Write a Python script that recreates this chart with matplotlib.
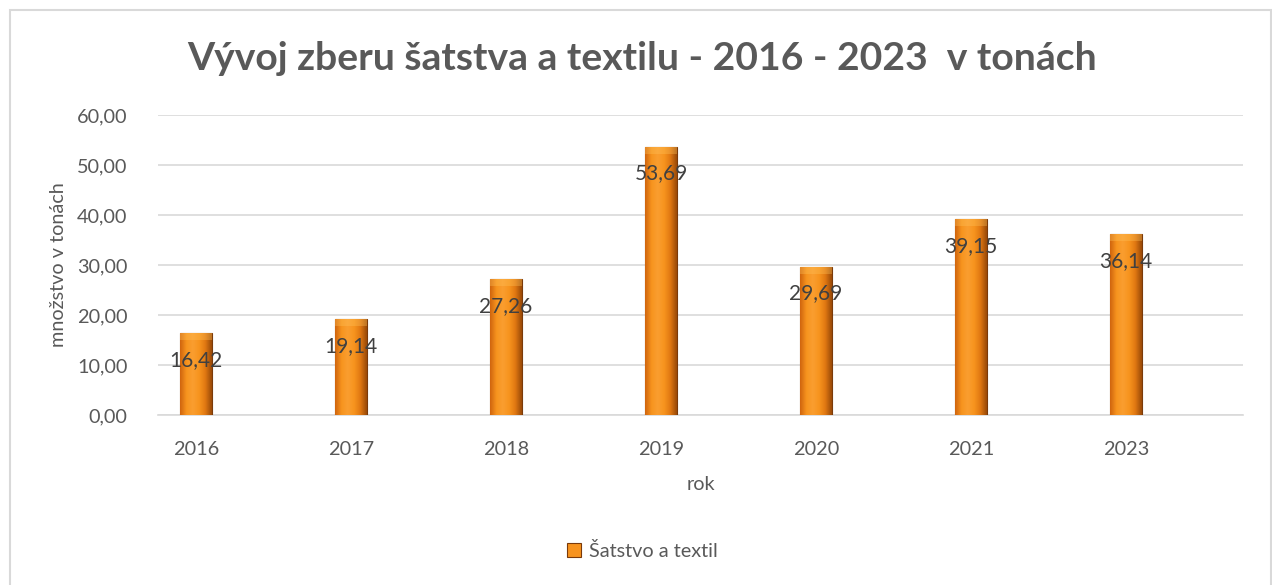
"""Vyvoj zberu satstva a textilu - stlpcovy graf."""
import numpy as np
import matplotlib
matplotlib.use("Agg")
import matplotlib.pyplot as plt
from matplotlib.patches import Rectangle
from matplotlib.colors import LinearSegmentedColormap

# Data
years = ["2016", "2017", "2018", "2019", "2020", "2021", "2023"]
tons = [16.42, 19.14, 27.26, 53.69, 29.69, 39.15, 36.14]
series_name = "Šatstvo a textil"

plt.rcParams["font.family"] = ["Lato", "DejaVu Sans"]
text_color = "#595959"
grid_color = "#D9D9D9"

fig = plt.figure(figsize=(12.72, 5.85), dpi=100)
ax = fig.add_axes([158 / 1272, 1 - 415 / 585, (1243 - 158) / 1272, 300 / 585])

x = np.arange(len(years))
bar_w = 0.206
bars = ax.bar(x, tons, width=bar_w, color="#F7931E", edgecolor="#7A3A0A",
              linewidth=0.8, zorder=3, label=series_name)

# horizontal gradient to mimic the bevelled Excel bars
cmap = LinearSegmentedColormap.from_list(
    "bev", ["#D0650E", "#F7941E", "#FA9E30", "#F7941E", "#E07812", "#9A4A08"])
grad = np.linspace(0, 1, 64).reshape(1, -1)
for b in bars:
    x0, w, h = b.get_x(), b.get_width(), b.get_height()
    im = ax.imshow(grad, cmap=cmap, aspect="auto", extent=(x0, x0 + w, 0, h),
                   zorder=3.5, interpolation="bicubic")
    im.set_clip_path(b)
    # soft light top bevel
    ax.add_patch(Rectangle((x0, h - 1.4), w, 1.4, color="#FFC35A", alpha=0.35,
                           zorder=3.6, linewidth=0))

for xi, v in zip(x, tons):
    ax.annotate(f"{v:.2f}".replace(".", ","), (xi, v), xytext=(0, -27),
                textcoords="offset pixels",
                ha="center", va="center", fontsize=15, color="#404040", zorder=5)

ax.set_xlim(-0.245, 6.755)
ax.set_ylim(0, 60)
ax.set_yticks(np.arange(0, 61, 10))
ax.set_yticklabels([f"{t:.2f}".replace(".", ",") for t in np.arange(0, 61, 10)])
ax.set_xticks(x)
ax.set_xticklabels(years)
ax.tick_params(axis="both", length=0, labelsize=14.3, colors=text_color)
ax.tick_params(axis="y", pad=22)
ax.tick_params(axis="x", pad=19)
ax.grid(axis="y", color=grid_color, linewidth=1.2, zorder=0)
for s in ["top", "right", "left"]:
    ax.spines[s].set_visible(False)
ax.spines["bottom"].set_color(grid_color)
ax.spines["bottom"].set_linewidth(1.2)

ax.set_xlabel("rok", fontsize=14.3, color=text_color, labelpad=13)
ax.set_ylabel("množstvo v tonách", fontsize=14.3, color=text_color, labelpad=7)

fig.text(642 / 1272, 1 - 58 / 585, "Vývoj zberu šatstva a textilu - 2016 - 2023  v tonách",
         ha="center", va="center", fontsize=28.2, fontweight="bold", color=text_color)

handles = [Rectangle((0, 0), 1, 1, facecolor="#F7931E", edgecolor="#7A3A0A", linewidth=0.8)]
fig.legend(handles, [series_name], loc="center", bbox_to_anchor=(642 / 1272, 1 - 551 / 585),
           frameon=False, fontsize=14.3, labelcolor=text_color, handlelength=0.7,
           handleheight=0.7, handletextpad=0.4)

# chart border
fig.patches.append(Rectangle((10 / 1272, -0.01), 1261 / 1272, 1 - 10 / 585 + 0.01,
                             transform=fig.transFigure, fill=False,
                             edgecolor="#D9D9D9", linewidth=1.5))

fig.savefig("out.png", dpi=100)
